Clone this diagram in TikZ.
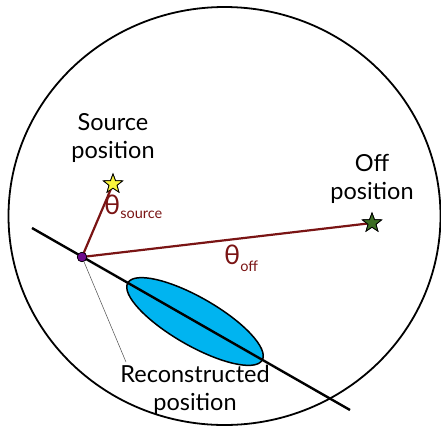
\documentclass[tikz,border=0pt]{standalone}
\usepackage{fontspec}
\setmainfont{Lato}
\usetikzlibrary{shapes.geometric}
\definecolor{darkred}{RGB}{122,20,20}
\definecolor{skyblue}{RGB}{0,180,240}
\definecolor{stargreen}{RGB}{60,110,35}
\definecolor{staryellow}{RGB}{250,245,60}
\definecolor{dotpurple}{RGB}{110,10,140}
\tikzset{
  lbl/.style={font=\fontsize{23.5}{28}\selectfont, align=center, text=black, inner sep=0pt},
  theta/.style={text=darkred, inner sep=0pt, font=\fontsize{27}{28}\selectfont},
  startmark/.style={star, star points=5, star point ratio=2.4, draw=black, line width=0.8pt, minimum size=20pt, inner sep=0pt},
  ray/.style={draw=darkred, line width=2.2pt},
}
\begin{document}
\begin{tikzpicture}[x=1pt,y=-1pt]
\useasboundingbox (0,0) rectangle (441,429);
% outer circle
\draw[line width=1.8pt] (224.5,216) ellipse [x radius=216, y radius=209];
% reconstruction ellipse
\node[ellipse, draw=black, line width=1.5pt, fill=skyblue, minimum width=155pt, minimum height=48pt, rotate=-29.9, inner sep=0pt] (err) at (195,321.5) {};
% line of reconstructed positions
\coordinate (la) at (32,228);
\coordinate (lb) at (350,410);
\draw[line width=2.4pt] (la) -- (lb);
% nodes
\node[startmark, fill=staryellow] (src) at (113,184) {};
\node[startmark, fill=stargreen] (off) at (372,223) {};
\node[circle, fill=dotpurple, draw=black, line width=0.6pt, minimum size=9.5pt, inner sep=0pt] (rec) at (82,257) {};
% texts
\node[lbl] (srclbl) at (113,138) {Source\\position};
\node[lbl] (offlbl) at (372,179) {Off\\position};
\node[lbl] (reclbl) at (195,390) {Reconstructed\\position};
% rays
\draw[ray] (rec.center) -- (src.center);
\draw[ray] (rec.center) -- (off.center);
\node[startmark, fill=staryellow] at (src) {};
\node[startmark, fill=stargreen] at (off) {};
\node[circle, fill=dotpurple, draw=black, line width=0.6pt, minimum size=9.5pt, inner sep=0pt] at (rec) {};
% pointer
\draw[line width=0.5pt, black!70] (rec) -- (126,362) coordinate (pt);
% angle labels
\node[theta, anchor=west] (tsrc) at (104,207) {θ\raisebox{-0.3ex}{\fontsize{14.5}{15}\selectfont source}};
\node[theta, anchor=west] (toff) at (224,258) {θ\raisebox{-0.5ex}{\fontsize{14.5}{15}\selectfont off}};
\end{tikzpicture}
\end{document}
